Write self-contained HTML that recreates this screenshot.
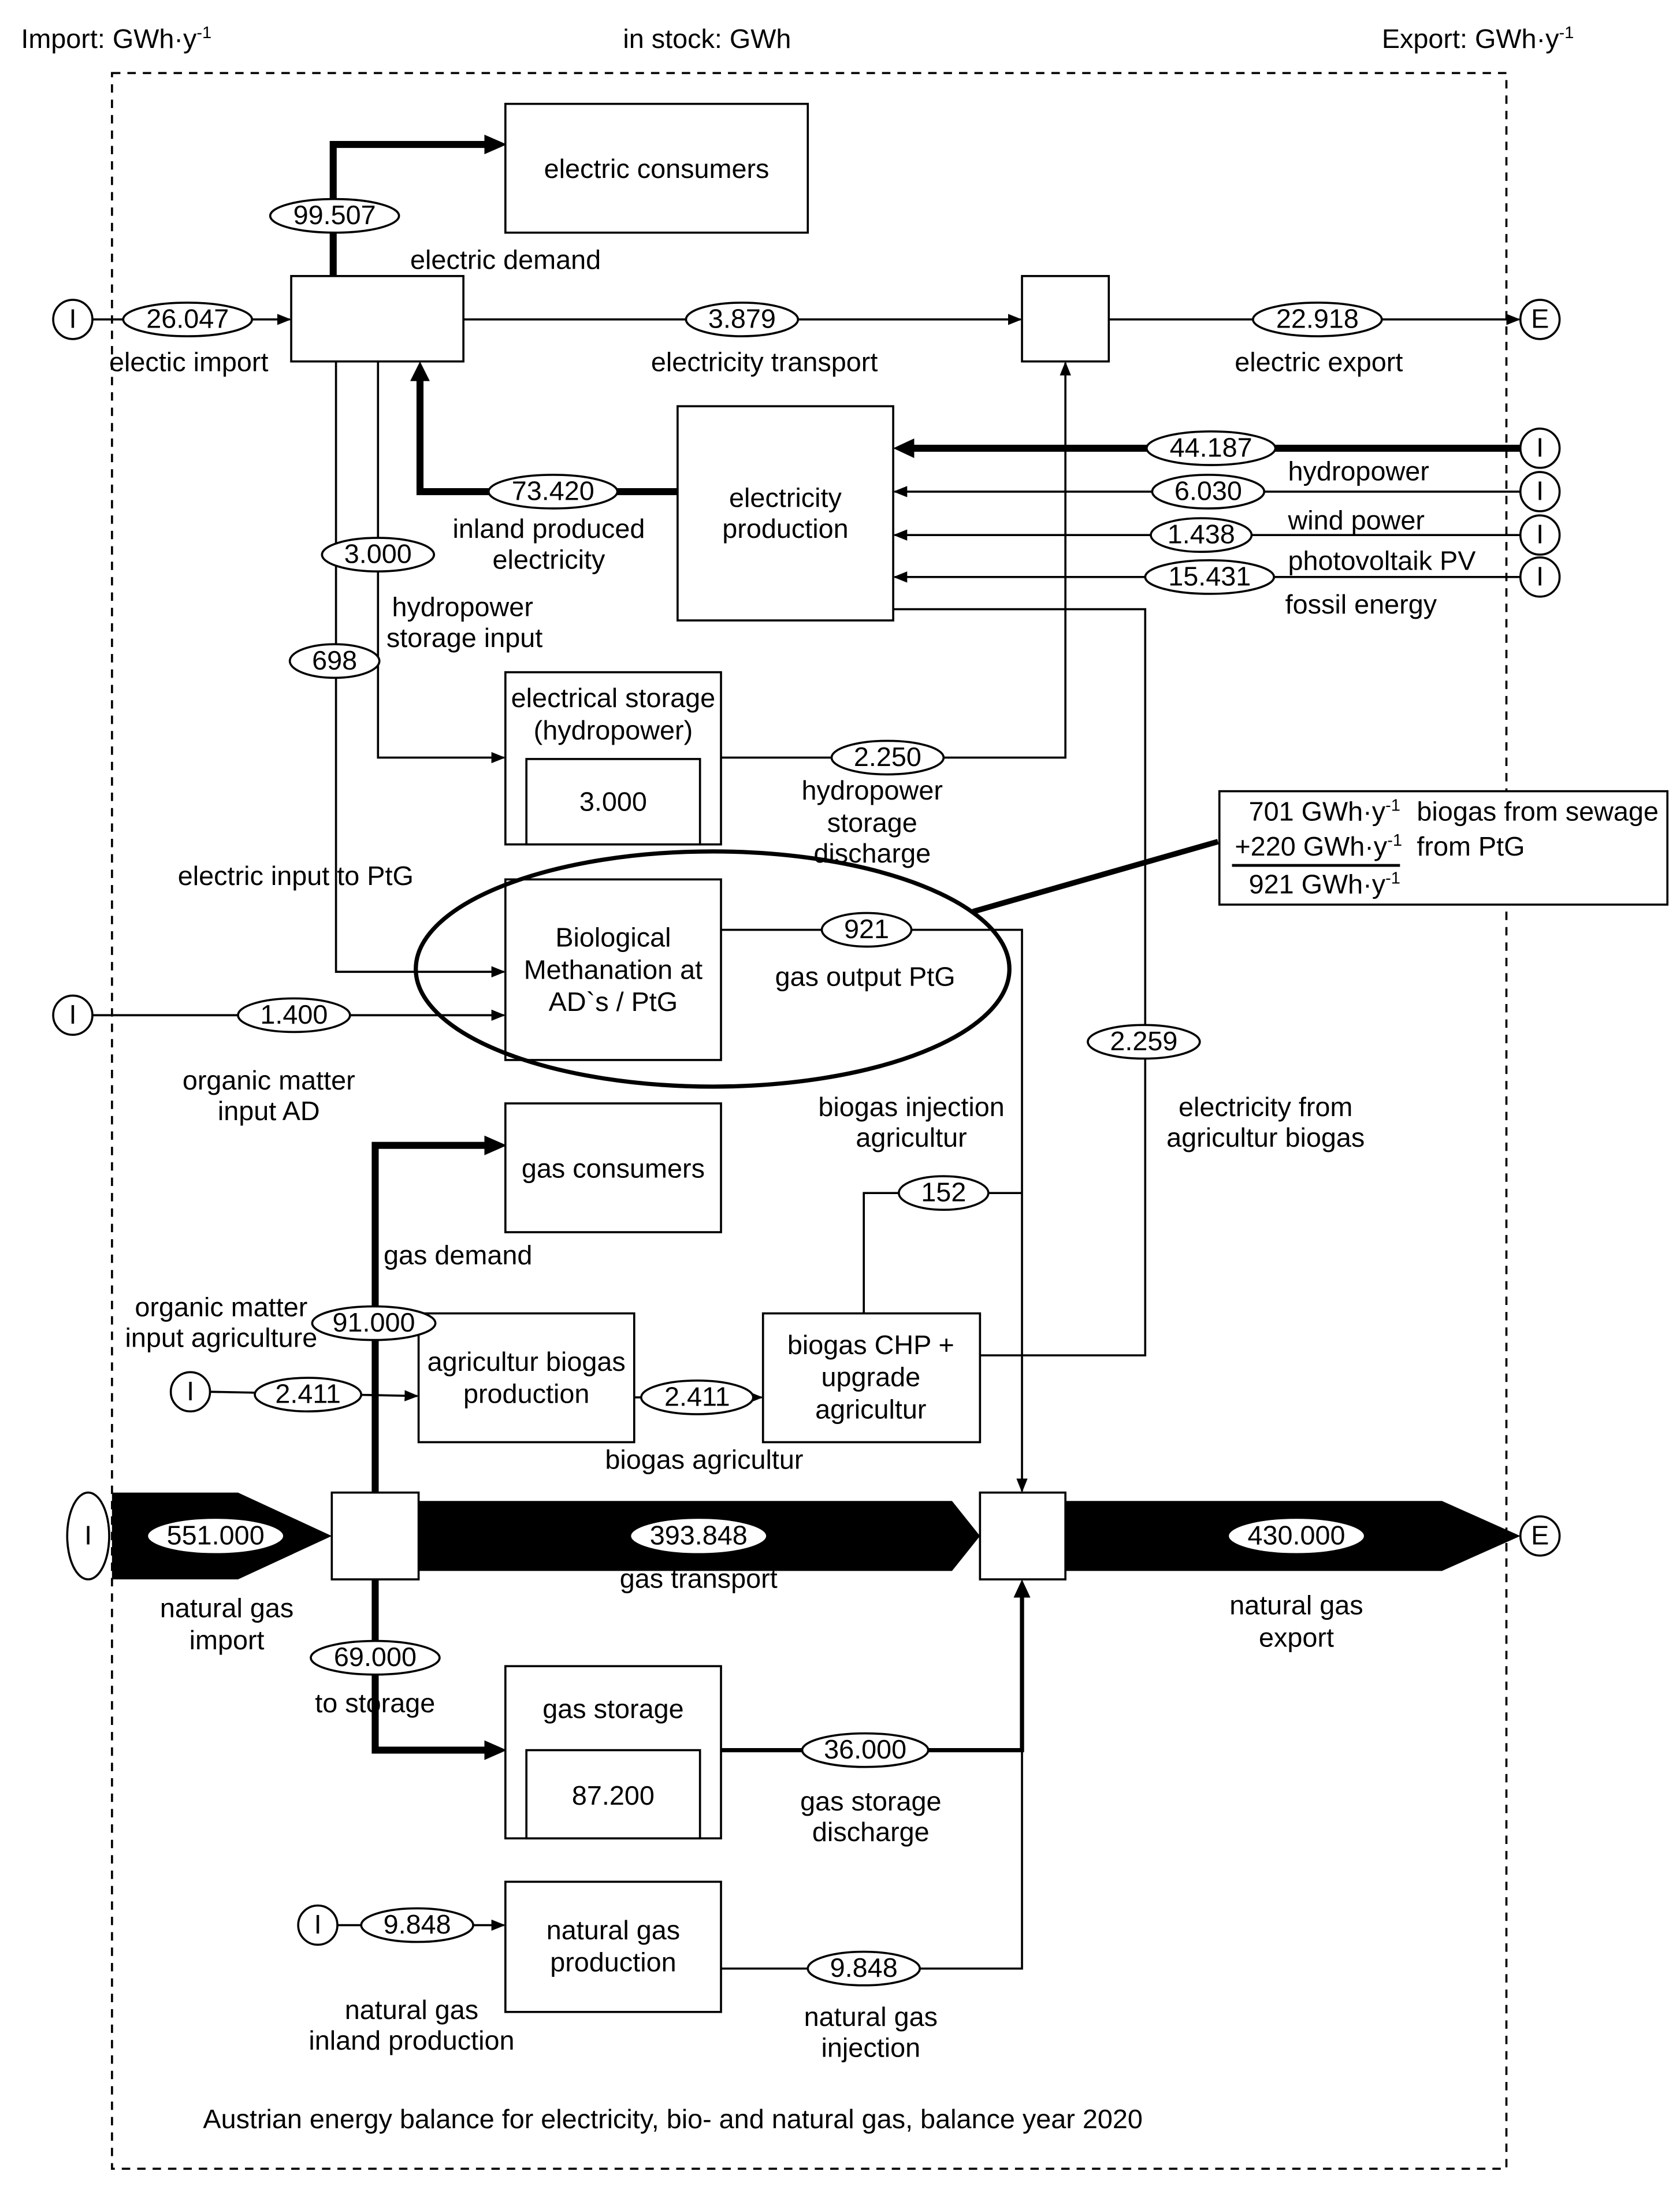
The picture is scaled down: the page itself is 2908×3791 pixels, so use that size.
<!DOCTYPE html>
<html><head><meta charset="utf-8"><style>
html,body{margin:0;padding:0;background:#fff;}
svg{display:block;}
text{font-family:"Liberation Sans",Arial,sans-serif;font-size:19.3px;fill:#000;}
.m{text-anchor:middle;}
</style></head><body>
<svg width="2908" height="3791" viewBox="0 0 1200 1564" xmlns="http://www.w3.org/2000/svg">
<defs>
<marker id="a" markerWidth="10" markerHeight="8" refX="9" refY="4" orient="auto" markerUnits="userSpaceOnUse"><path d="M0,0 L10,4 L0,8z" fill="#000"/></marker>
</defs>
<rect width="1200" height="1564" fill="#fff"/>
<text x="15" y="34">Import: GWh·y<tspan dy="-7" font-size="12">-1</tspan></text>
<text x="445" y="34">in stock: GWh</text>
<text x="987" y="34">Export: GWh·y<tspan dy="-7" font-size="12">-1</tspan></text>
<rect x="80" y="52" width="996" height="1497" fill="none" stroke="#000" stroke-width="1.5" stroke-dasharray="6,5"/>

<g fill="none" stroke="#000" stroke-width="1.5">
<line x1="66" y1="228" x2="207" y2="228" marker-end="url(#a)"/>
<line x1="331" y1="228" x2="729" y2="228" marker-end="url(#a)"/>
<line x1="792" y1="228" x2="1085" y2="228" marker-end="url(#a)"/>
<polyline points="515,541 761,541 761,259" marker-end="url(#a)"/>
<polyline points="638,435 818,435 818,968 700,968"/>
<line x1="1086" y1="351" x2="639" y2="351" marker-end="url(#a)"/>
<line x1="1086" y1="382" x2="639" y2="382" marker-end="url(#a)"/>
<line x1="1086" y1="412" x2="639" y2="412" marker-end="url(#a)"/>
<polyline points="240,258 240,694 360,694" marker-end="url(#a)"/>
<polyline points="270,258 270,541 360,541" marker-end="url(#a)"/>
<polyline points="515,664 730,664 730,1065" marker-end="url(#a)"/>
<polyline points="617,938 617,852 730,852"/>
<line x1="66" y1="725" x2="360" y2="725" marker-end="url(#a)"/>
<line x1="150" y1="994" x2="298" y2="997" marker-end="url(#a)"/>
<line x1="453" y1="998" x2="544" y2="998" marker-end="url(#a)"/>
<line x1="241" y1="1375" x2="360" y2="1375" marker-end="url(#a)"/>
<polyline points="515,1406 730,1406 730,1250"/>
</g>
<g fill="none" stroke="#000" stroke-width="5">
<polyline points="238,197 238,103 348,103"/>
<line x1="1086" y1="320" x2="650" y2="320"/>
<polyline points="484,351 300,351 300,270"/>
<polyline points="268,1066 268,818 348,818"/>
<polyline points="268,1128 268,1250 348,1250"/>
</g>
<path d="M346,96 L362,103 L346,110z M653,313 L638,320 L653,327z M293,272 L300,258 L307,272z M346,811 L362,818 L346,825z M346,1243 L362,1250 L346,1257z"/>
<polyline points="515,1250 730,1250 730,1140" fill="none" stroke="#000" stroke-width="3"/>
<path d="M724,1141 L730,1128 L736,1141z"/>
<line x1="695" y1="651" x2="870" y2="601" stroke="#000" stroke-width="4"/>

<path d="M80,1066 L170,1066 L237,1097 L170,1128 L80,1128z"/>
<path d="M299,1072 L680,1072 L700,1097 L680,1122 L299,1122z"/>
<path d="M761,1072 L1030,1072 L1086,1097 L1030,1122 L761,1122z"/>

<g fill="#fff" stroke="#000" stroke-width="1.5">
<rect x="361" y="74" width="216" height="92"/>
<rect x="208" y="197" width="123" height="61"/>
<rect x="730" y="197" width="62" height="61"/>
<rect x="484" y="290" width="154" height="153"/>
<rect x="361" y="480" width="154" height="123"/>
<rect x="376" y="542" width="124" height="61"/>
<rect x="361" y="628" width="154" height="129"/>
<rect x="361" y="788" width="154" height="92"/>
<rect x="299" y="938" width="154" height="92"/>
<rect x="545" y="938" width="155" height="92"/>
<rect x="237" y="1066" width="62" height="62"/>
<rect x="700" y="1066" width="61" height="62"/>
<rect x="361" y="1190" width="154" height="123"/>
<rect x="376" y="1250" width="124" height="63"/>
<rect x="361" y="1344" width="154" height="93"/>
<rect x="871" y="565" width="320" height="81"/>
</g>
<ellipse cx="509" cy="692" rx="212" ry="84" fill="none" stroke="#000" stroke-width="3"/>

<g fill="#fff" stroke="#000" stroke-width="1.5">
<circle cx="52" cy="228" r="14"/><circle cx="1100" cy="228" r="14"/>
<circle cx="1100" cy="320" r="14"/><circle cx="1100" cy="351" r="14"/>
<circle cx="1100" cy="382" r="14"/><circle cx="1100" cy="412" r="14"/>
<circle cx="52" cy="725" r="14"/><circle cx="136" cy="994" r="14"/>
<ellipse cx="63" cy="1097" rx="15" ry="31"/><circle cx="1100" cy="1097" r="14"/>
<circle cx="227" cy="1375" r="14"/>
</g>
<g>
<text x="52" y="234" class="m">I</text><text x="1100" y="234" class="m">E</text>
<text x="1100" y="326" class="m">I</text><text x="1100" y="357" class="m">I</text>
<text x="1100" y="388" class="m">I</text><text x="1100" y="418" class="m">I</text>
<text x="52" y="731" class="m">I</text><text x="136" y="1000" class="m">I</text>
<text x="63" y="1103" class="m">I</text><text x="1100" y="1103" class="m">E</text>
<text x="227" y="1381" class="m">I</text>
</g>

<g fill="#fff" stroke="#000" stroke-width="1.5">
<ellipse cx="239" cy="154" rx="46" ry="12"/>
<ellipse cx="134" cy="228" rx="46" ry="12"/>
<ellipse cx="530" cy="228" rx="40" ry="12"/>
<ellipse cx="941" cy="228" rx="46" ry="12"/>
<ellipse cx="865" cy="320" rx="46" ry="12"/>
<ellipse cx="863" cy="351" rx="40" ry="12"/>
<ellipse cx="858" cy="382" rx="36" ry="12"/>
<ellipse cx="864" cy="412" rx="46" ry="12"/>
<ellipse cx="395" cy="351" rx="46" ry="12"/>
<ellipse cx="270" cy="396" rx="40" ry="12"/>
<ellipse cx="239" cy="472" rx="32" ry="12"/>
<ellipse cx="634" cy="541" rx="40" ry="12"/>
<ellipse cx="619" cy="664" rx="32" ry="12"/>
<ellipse cx="210" cy="725" rx="40" ry="12"/>
<ellipse cx="817" cy="744" rx="40" ry="12"/>
<ellipse cx="674" cy="852" rx="32" ry="12"/>
<ellipse cx="267" cy="945" rx="44" ry="12"/>
<ellipse cx="220" cy="996" rx="38" ry="12"/>
<ellipse cx="498" cy="998" rx="40" ry="12"/>
<ellipse cx="154" cy="1097" rx="49" ry="13"/>
<ellipse cx="499" cy="1097" rx="49" ry="13"/>
<ellipse cx="926" cy="1097" rx="49" ry="13"/>
<ellipse cx="268" cy="1184" rx="46" ry="12"/>
<ellipse cx="618" cy="1250" rx="45" ry="12"/>
<ellipse cx="298" cy="1375" rx="40" ry="12"/>
<ellipse cx="617" cy="1406" rx="40" ry="12"/>
</g>
<g>
<text x="239" y="160" class="m">99.507</text>
<text x="134" y="234" class="m">26.047</text>
<text x="530" y="234" class="m">3.879</text>
<text x="941" y="234" class="m">22.918</text>
<text x="865" y="326" class="m">44.187</text>
<text x="863" y="357" class="m">6.030</text>
<text x="858" y="388" class="m">1.438</text>
<text x="864" y="418" class="m">15.431</text>
<text x="395" y="357" class="m">73.420</text>
<text x="270" y="402" class="m">3.000</text>
<text x="239" y="478" class="m">698</text>
<text x="634" y="547" class="m">2.250</text>
<text x="619" y="670" class="m">921</text>
<text x="210" y="731" class="m">1.400</text>
<text x="817" y="750" class="m">2.259</text>
<text x="674" y="858" class="m">152</text>
<text x="267" y="951" class="m">91.000</text>
<text x="220" y="1002" class="m">2.411</text>
<text x="498" y="1004" class="m">2.411</text>
<text x="154" y="1103" class="m">551.000</text>
<text x="499" y="1103" class="m">393.848</text>
<text x="926" y="1103" class="m">430.000</text>
<text x="268" y="1190" class="m">69.000</text>
<text x="618" y="1256" class="m">36.000</text>
<text x="298" y="1381" class="m">9.848</text>
<text x="617" y="1412" class="m">9.848</text>
</g>

<g>
<text x="469" y="127" class="m">electric consumers</text>
<text x="561" y="362" class="m">electricity</text>
<text x="561" y="384" class="m">production</text>
<text x="438" y="505" class="m">electrical storage</text>
<text x="438" y="528" class="m">(hydropower)</text>
<text x="438" y="579" class="m">3.000</text>
<text x="438" y="676" class="m">Biological</text>
<text x="438" y="699" class="m">Methanation at</text>
<text x="438" y="722" class="m">AD`s / PtG</text>
<text x="438" y="841" class="m">gas consumers</text>
<text x="376" y="979" class="m">agricultur biogas</text>
<text x="376" y="1002" class="m">production</text>
<text x="622" y="967" class="m">biogas CHP +</text>
<text x="622" y="990" class="m">upgrade</text>
<text x="622" y="1013" class="m">agricultur</text>
<text x="438" y="1227" class="m">gas storage</text>
<text x="438" y="1289" class="m">87.200</text>
<text x="438" y="1385" class="m">natural gas</text>
<text x="438" y="1408" class="m">production</text>
</g>

<text x="293" y="192">electric demand</text>
<text x="78" y="265">electic import</text>
<text x="546" y="265" class="m">electricity transport</text>
<text x="942" y="265" class="m">electric export</text>
<text x="920" y="343">hydropower</text>
<text x="920" y="378">wind power</text>
<text x="920" y="407">photovoltaik PV</text>
<text x="918" y="438">fossil energy</text>
<text x="392" y="384" class="m">inland produced</text>
<text x="392" y="406" class="m">electricity</text>
<text x="280" y="440">hydropower</text>
<text x="276" y="462">storage input</text>
<text x="623" y="571" class="m">hydropower</text>
<text x="623" y="594" class="m">storage</text>
<text x="623" y="616" class="m">discharge</text>
<text x="127" y="632">electric input to PtG</text>
<text x="618" y="704" class="m">gas output PtG</text>
<text x="192" y="778" class="m">organic matter</text>
<text x="192" y="800" class="m">input AD</text>
<text x="651" y="797" class="m">biogas injection</text>
<text x="651" y="819" class="m">agricultur</text>
<text x="904" y="797" class="m">electricity from</text>
<text x="904" y="819" class="m">agricultur biogas</text>
<text x="274" y="903">gas demand</text>
<text x="158" y="940" class="m">organic matter</text>
<text x="158" y="962" class="m">input agriculture</text>
<text x="503" y="1049" class="m">biogas agricultur</text>
<text x="499" y="1134" class="m">gas transport</text>
<text x="162" y="1155" class="m">natural gas</text>
<text x="162" y="1178" class="m">import</text>
<text x="926" y="1153" class="m">natural gas</text>
<text x="926" y="1176" class="m">export</text>
<text x="225" y="1223">to storage</text>
<text x="622" y="1293" class="m">gas storage</text>
<text x="622" y="1315" class="m">discharge</text>
<text x="294" y="1442" class="m">natural gas</text>
<text x="294" y="1464" class="m">inland production</text>
<text x="622" y="1447" class="m">natural gas</text>
<text x="622" y="1469" class="m">injection</text>
<text x="145" y="1520">Austrian energy balance for electricity, bio- and natural gas, balance year 2020</text>

<text x="892" y="586">701 GWh·y<tspan dy="-7" font-size="12">-1</tspan></text>
<text x="1012" y="586">biogas from sewage</text>
<text x="882" y="611">+220 GWh·y<tspan dy="-7" font-size="12">-1</tspan></text>
<text x="1012" y="611">from PtG</text>
<line x1="880" y1="618" x2="1000" y2="618" stroke="#000" stroke-width="2"/>
<text x="892" y="638">921 GWh·y<tspan dy="-7" font-size="12">-1</tspan></text>
</svg>
</body></html>
